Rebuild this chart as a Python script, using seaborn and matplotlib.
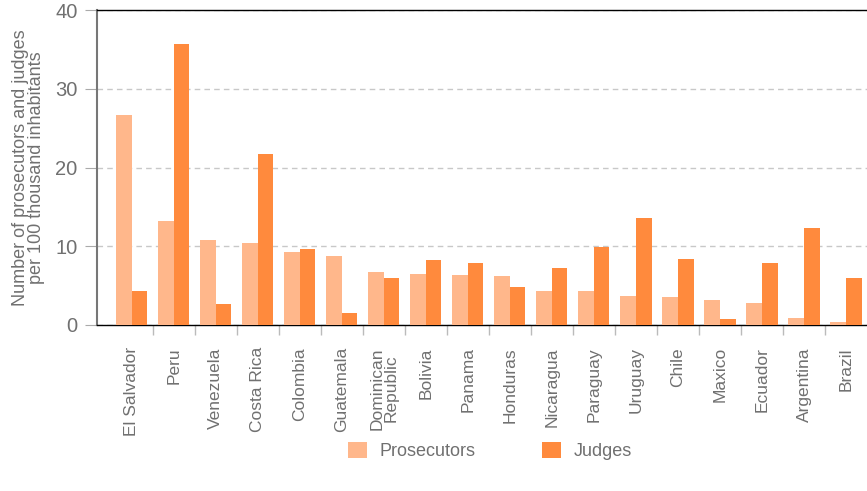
import numpy as np
import pandas as pd
import matplotlib
matplotlib.use("Agg")
import matplotlib.pyplot as plt
import seaborn as sns

countries = ["El Salvador", "Peru", "Venezuela", "Costa Rica", "Colombia", "Guatemala",
             "Dominican\nRepublic", "Bolivia", "Panama", "Honduras", "Nicaragua", "Paraguay",
             "Uruguay", "Chile", "Maxico", "Ecuador", "Argentina", "Brazil"]
prosecutors = [26.7, 13.2, 10.8, 10.4, 9.3, 8.8, 6.7, 6.5, 6.35, 6.2, 4.3, 4.3,
               3.7, 3.55, 3.2, 2.8, 0.9, 0.4]
judges = [4.3, 35.7, 2.7, 21.7, 9.65, 1.5, 6.0, 8.25, 7.9, 4.8, 7.2, 9.9,
          13.6, 8.4, 0.76, 7.9, 12.3, 6.0]

df = pd.DataFrame({"Country": countries * 2,
                   "Value": prosecutors + judges,
                   "Type": ["Prosecutors"] * len(countries) + ["Judges"] * len(countries)})

sns.set_style("white")
plt.rcParams["font.family"] = ["Liberation Sans", "DejaVu Sans"]

gray = "#707070"
fig = plt.figure(figsize=(8.67, 4.91), dpi=100)
ax = fig.add_axes([97 / 867, 1 - 325 / 491, 1 - 97 / 867, (325 - 10) / 491])

sns.barplot(data=df, x="Country", y="Value", hue="Type", order=countries,
            palette={"Prosecutors": "#FFB78B", "Judges": "#FF8A3D"},
            width=0.74, dodge=True, saturation=1, ax=ax, zorder=3,
            edgecolor="none", linewidth=0)

ax.set_ylim(0, 40)
ax.set_xlim(-0.83, 17.5)
ax.set_yticks([0, 10, 20, 30, 40])
ax.yaxis.grid(True, linestyle=(0, (4, 3)), color="#c8c8c8", lw=1, zorder=0)
ax.xaxis.grid(False)
ax.tick_params(axis="y", left=True, length=9, color="#aaaaaa", labelsize=14.5,
               labelcolor=gray, pad=5)

ax.set_xticks(np.arange(len(countries)))
ax.set_xticklabels(countries, rotation=90, fontsize=12.5, color=gray,
                   va="top", ha="center", linespacing=0.95)
ax.tick_params(axis="x", which="major", length=0, pad=16)
ax.set_xticks(np.arange(0.5, len(countries) - 1), minor=True)
ax.tick_params(axis="x", which="minor", bottom=True, length=7, color="#bbbbbb", width=1)

ax.set_xlabel("")
ax.set_ylabel("Number of prosecutors and judges\nper 100 thousand inhabitants",
              fontsize=13, color=gray, labelpad=7, linespacing=0.95)

for side in ["top", "bottom"]:
    ax.spines[side].set_color("black")
    ax.spines[side].set_linewidth(1)
ax.spines["left"].set_color("#777777")
ax.spines["left"].set_linewidth(1.5)
ax.spines["right"].set_visible(False)

leg = ax.legend(loc="center", bbox_to_anchor=(490 / 867, 1 - 451 / 491),
                bbox_transform=fig.transFigure, ncol=2, frameon=False,
                fontsize=13, handlelength=1.05, handleheight=1.05,
                columnspacing=3.7, handletextpad=0.7)
for t in leg.get_texts():
    t.set_color(gray)

fig.savefig("out.png", dpi=100)
